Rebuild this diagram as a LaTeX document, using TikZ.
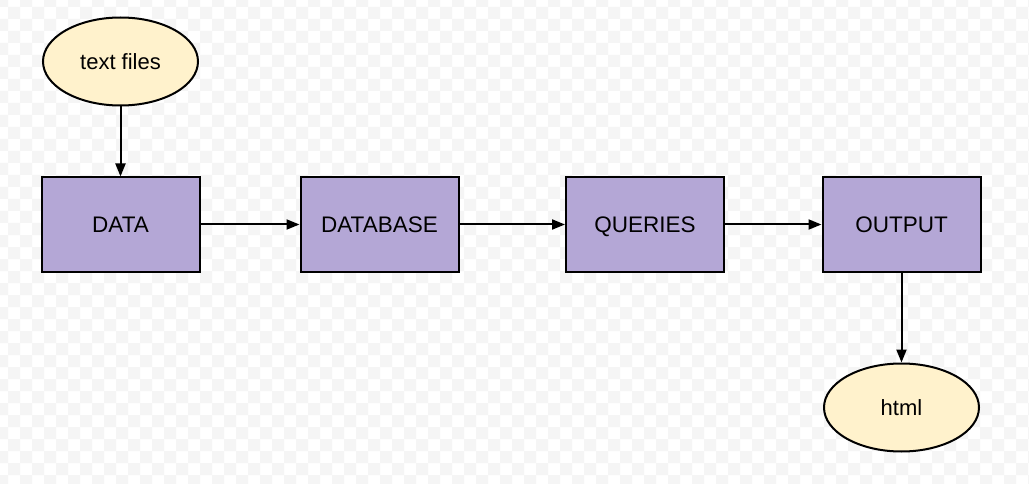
\documentclass[tikz,border=0pt]{standalone}
\usepackage{fontspec}
\setmainfont{Liberation Sans}
\usetikzlibrary{shapes.geometric,arrows.meta}
\definecolor{boxfill}{HTML}{B4A7D6}
\definecolor{ellfill}{HTML}{FFF2CC}
\definecolor{checkgray}{HTML}{F5F5F5}
\tikzset{
  procbox/.style={draw=black, line width=2pt, fill=boxfill, minimum width=158pt, minimum height=94pt, inner sep=0pt, text height=16pt, text depth=0pt, font=\fontsize{22.5}{26}\selectfont},
  ioell/.style={ellipse, draw=black, line width=2pt, fill=ellfill, minimum width=155pt, minimum height=88pt, inner sep=0pt, text height=16pt, text depth=0pt, font=\fontsize{22}{26}\selectfont},
  arr/.style={draw=black, line width=2pt, -{Triangle[length=13pt,width=10pt]}}
}
\begin{document}
\begin{tikzpicture}[x=1pt,y=-1pt]
\useasboundingbox (0,0) rectangle (1029,484);
\fill[white] (0,0) rectangle (1029,484);
\begin{scope}
\clip (0,0) rectangle (1029,484);
\fill[checkgray] \foreach \i in {0,...,43} { \foreach \j in {0,...,20} {
  ({\i*24-4},{\j*24-5}) rectangle ++(12,12)
  ({\i*24+8},{\j*24+7}) rectangle ++(12,12) } };
\end{scope}
\node[ioell] (tf) at (120.5,61.5) {text files};
\node[procbox] (data) at (120.5,224.5) {DATA};
\node[procbox] (db) at (379.5,224.5) {DATABASE};
\node[procbox] (q) at (645,224.5) {QUERIES};
\node[procbox] (out) at (901.5,224.5) {OUTPUT};
\node[ioell] (html) at (901.5,407.5) {html};
\draw[arr] (tf) -- (data);
\draw[arr] (data) -- (db);
\draw[arr] (db) -- (q);
\draw[arr] (q) -- (out);
\draw[arr] (out) -- (html);
\end{tikzpicture}
\end{document}
